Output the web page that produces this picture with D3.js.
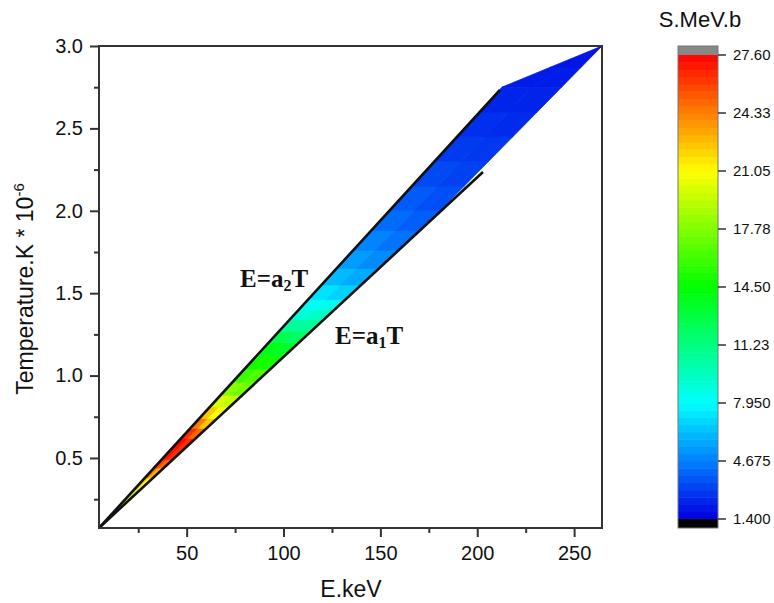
<!DOCTYPE html>
<html>
<head>
<meta charset="utf-8">
<script src="https://cdn.jsdelivr.net/npm/d3@7/dist/d3.min.js"></script>
<style>
  body { margin: 0; background: #fff; }
  svg { display: block; }
  text { font-family: "Liberation Sans", Arial, sans-serif; fill: #111; }
</style>
</head>
<body>
<div id="chart"></div>
<script>
// x / y ticks
const xTicks = [50, 100, 150, 200, 250];
const xMinor = [25, 75, 125, 175, 225];
const yTicks = [0.5, 1.0, 1.5, 2.0, 2.5, 3.0];
const yMinor = [0.25, 0.75, 1.25, 1.75, 2.25, 2.75];

// colour bar labels
const barTicks = ["27.60", "24.33", "21.05", "17.78", "14.50", "11.23", "7.950", "4.675", "1.400"];

// wedge outline (E keV, T*1e-6)
const upperEdgeE = [4.75, 212.8, 264.4];
const upperEdgeT = [0.075, 2.751, 3.0];
const lowerEdgeE = [4.75, 176.6, 264.4];
const lowerEdgeT = [0.075, 1.95, 3.0];

// the two boundary lines
const lineA2E = [4.75, 211.7];
const lineA2T = [0.075, 2.733];
const lineA1E = [4.75, 202.95];
const lineA1T = [0.075, 2.235];

// S values read along the wedge, by temperature band
const tempBreaks = [0.075, 0.16, 0.24, 0.31, 0.38, 0.44, 0.49, 0.56, 0.62, 0.68, 0.74, 0.81,
  0.88, 0.96, 1.04, 1.12, 1.2, 1.27, 1.34, 1.40, 1.46, 1.55, 1.65, 1.76, 1.88, 2.0, 2.15,
  2.3, 2.45, 2.6, 2.75, 2.87, 3.0];
const sUpperSide = [17, 19, 20.5, 22.5, 24.5, 26, 27.2, 27.4, 26.5, 24.5, 22.5, 20, 18, 16,
  15, 14, 12.5, 10.5, 9, 8.2, 7.2, 6.2, 5.4, 4.8, 4.2, 3.8, 3.4, 3.0, 2.7, 2.4, 2.2, 2.0];
const sLowerSide = [16, 18, 19.5, 21, 23, 25, 26.5, 26.5, 25, 22.5, 21, 19.5, 17.5, 16.5,
  15, 13.5, 12, 10.5, 9.5, 8.5, 6.8, 5.8, 5.0, 4.4, 3.9, 3.5, 3.2, 2.9, 2.6, 2.4, 2.2, 2.0];

const sMin = 1.4, sMax = 27.6;

const svg = d3.select("#chart").append("svg")
    .attr("width", 774)
    .attr("height", 603);

const x = d3.scaleLinear().domain([4.75, 264.4]).range([99, 602]);
const y = d3.scaleLinear().domain([0.075, 3.0]).range([528, 46]);

const color = v => {
    const f = Math.max(0, Math.min(1, (v - sMin) / (sMax - sMin)));
    const l = f < 0.12 ? 0.44 + f * 0.5 : 0.5;
    return d3.hsl(240 * (1 - f), 1, l).formatHex();
};

// edges as polylinear scales T -> E
const leftE = d3.scaleLinear().domain(upperEdgeT).range(upperEdgeE);
const rightE = d3.scaleLinear().domain(lowerEdgeT).range(lowerEdgeE);

svg.append("clipPath").attr("id", "plotclip")
    .append("rect").attr("x", 99).attr("y", 46).attr("width", 503).attr("height", 482);

const wedge = svg.append("g").attr("clip-path", "url(#plotclip)");

const pt = (t, u) => {
    const e0 = leftE(t), e1 = rightE(t);
    return [x(e0 + u * (e1 - e0)), y(t)];
};

const cells = [];
for (let i = 0; i < tempBreaks.length - 1; i++) {
    const t0 = tempBreaks[i], t1 = tempBreaks[i + 1];
    cells.push({ t0, t1, u0: 0, u1: 0.5, s: sUpperSide[i] });
    cells.push({ t0, t1, u0: 0.5, u1: 1, s: sLowerSide[i] });
}

wedge.selectAll("path.cell")
    .data(cells)
    .join("path")
    .attr("class", "cell")
    .attr("d", d => "M" + [pt(d.t0, d.u0), pt(d.t0, d.u1), pt(d.t1, d.u1), pt(d.t1, d.u0)].join("L") + "Z")
    .attr("fill", d => color(d.s))
    .attr("stroke", d => color(d.s))
    .attr("stroke-width", 0.8);

// boundary lines
const line = d3.line().x(d => x(d[0])).y(d => y(d[1]));
wedge.append("path")
    .datum(d3.zip(lineA2E, lineA2T))
    .attr("d", line)
    .attr("fill", "none").attr("stroke", "#111").attr("stroke-width", 2.6);
wedge.append("path")
    .datum(d3.zip(lineA1E, lineA1T))
    .attr("d", line)
    .attr("fill", "none").attr("stroke", "#111").attr("stroke-width", 2.6);

// axes
const styleAxis = g => {
    g.select(".domain").remove();
    g.selectAll(".tick line").attr("stroke", "#333").attr("stroke-width", 2);
    g.selectAll(".tick text").style("font-size", "20px").attr("fill", "#111");
};

svg.append("g").attr("transform", "translate(0,528)")
    .call(d3.axisBottom(x).tickValues(xTicks).tickSize(9).tickPadding(9).tickFormat(d3.format("d")))
    .call(styleAxis);
svg.append("g").attr("transform", "translate(0,528)")
    .call(d3.axisBottom(x).tickValues(xMinor).tickSize(5).tickFormat(""))
    .call(styleAxis);
svg.append("g").attr("transform", "translate(99,0)")
    .call(d3.axisLeft(y).tickValues(yTicks).tickSize(9).tickPadding(7).tickFormat(d3.format(".1f")))
    .call(styleAxis);
svg.append("g").attr("transform", "translate(99,0)")
    .call(d3.axisLeft(y).tickValues(yMinor).tickSize(5).tickFormat(""))
    .call(styleAxis);

// frame
svg.append("rect")
    .attr("x", 99).attr("y", 46).attr("width", 503).attr("height", 482)
    .attr("fill", "none").attr("stroke", "#333").attr("stroke-width", 2);

// axis titles
svg.append("text")
    .attr("x", 351).attr("y", 597)
    .attr("text-anchor", "middle")
    .style("font-size", "23px")
    .text("E.keV");

const yt = svg.append("text")
    .attr("transform", "translate(33,289) rotate(-90)")
    .attr("text-anchor", "middle")
    .style("font-size", "23px");
yt.append("tspan").text("Temperature.K * 10");
yt.append("tspan").attr("dy", -9).style("font-size", "15px").text("-6");

// line labels
const lab = (xp, yp, sub) => {
    const t = svg.append("text")
        .attr("x", xp).attr("y", yp)
        .style("font-family", "'Liberation Serif', 'Times New Roman', serif")
        .style("font-weight", "bold")
        .style("font-size", "25px");
    t.append("tspan").text("E=a");
    t.append("tspan").attr("dy", 4).style("font-size", "16px").text(sub);
    t.append("tspan").attr("dy", -4).text("T");
};
lab(240, 287, "2");
lab(335, 344, "1");

// colour bar
const barX = 678, barW = 40;
const cb = d3.scaleLinear().domain([sMin, sMax]).range([519, 55]);
const nBands = 64;
const step = (sMax - sMin) / nBands;
const bands = d3.range(nBands).map(i => sMin + i * step);
const bar = svg.append("g");
bar.selectAll("rect.band")
    .data(bands)
    .join("rect")
    .attr("class", "band")
    .attr("x", barX).attr("width", barW)
    .attr("y", d => cb(d + step))
    .attr("height", d => cb(d) - cb(d + step) + 0.5)
    .attr("fill", d => color(d + step / 2));
bar.append("rect").attr("x", barX).attr("width", barW).attr("y", 46).attr("height", 9).attr("fill", "#888");
bar.append("rect").attr("x", barX).attr("width", barW).attr("y", 519).attr("height", 9).attr("fill", "#000");
bar.append("rect").attr("x", barX).attr("width", barW).attr("y", 46).attr("height", 482)
    .attr("fill", "none").attr("stroke", "#777").attr("stroke-width", 1);

const barTickScale = d3.scalePoint().domain(barTicks).range([55, 519]);
bar.selectAll("line.bt")
    .data(barTicks)
    .join("line")
    .attr("class", "bt")
    .attr("x1", barX + barW).attr("x2", barX + barW + 8)
    .attr("y1", d => barTickScale(d)).attr("y2", d => barTickScale(d))
    .attr("stroke", "#333").attr("stroke-width", 1.5);
bar.selectAll("text.bl")
    .data(barTicks)
    .join("text")
    .attr("class", "bl")
    .attr("x", 733)
    .attr("y", d => barTickScale(d))
    .attr("dy", "0.35em")
    .style("font-size", "15px")
    .text(d => d);

svg.append("text")
    .attr("x", 700).attr("y", 27)
    .attr("text-anchor", "middle")
    .style("font-size", "22px")
    .text("S.MeV.b");
</script>
</body>
</html>
